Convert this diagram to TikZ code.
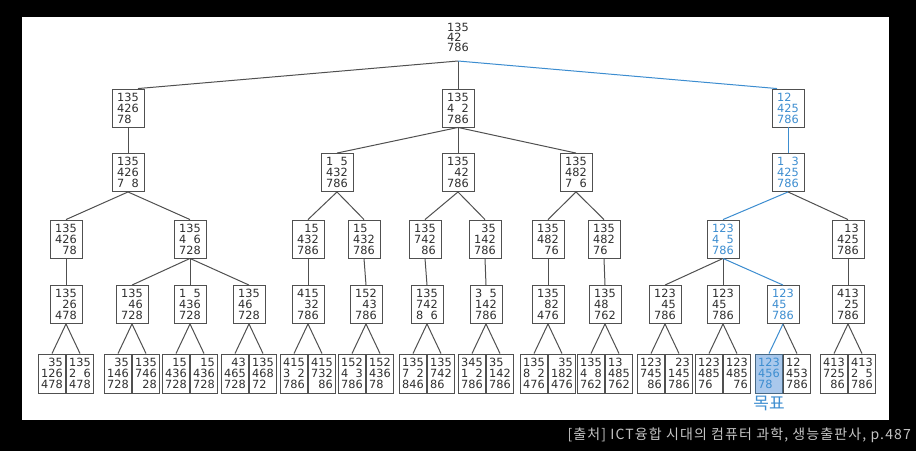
\documentclass[tikz,border=0pt]{standalone}
\usepackage{fontspec}
\setmainfont{DejaVu Sans}
\newfontfamily\krfont{Noto Sans CJK KR}
\newfontfamily\krwide[LetterSpace=8]{Noto Sans CJK KR}
\usetikzlibrary{positioning}
\definecolor{ink}{HTML}{2E2E2E}
\definecolor{edge}{HTML}{505050}
\definecolor{route}{HTML}{3C8DD0}
\definecolor{goalfill}{HTML}{A9C8EC}
\definecolor{capgray}{HTML}{C4C4C4}
\newcommand{\emp}{\phantom{0}}
\newcommand{\board}[3]{#1\\#2\\#3}
\tikzset{
  cell/.style={draw=edge,line width=0.9pt,fill=white,text=ink,align=left,
    font=\fontsize{11.3}{11}\selectfont,minimum width=32pt,minimum height=38pt,
    inner xsep=3pt,inner ysep=2pt},
  leaf/.style={cell,minimum width=27pt,minimum height=39pt,inner xsep=1pt},
  hot/.style={text=route},
  goal/.style={leaf,hot,fill=goalfill,draw=edge!60!route},
  link/.style={draw=edge,line width=1pt},
  hotlink/.style={draw=route,line width=1pt}
}

\begin{document}
\begin{tikzpicture}[x=1pt,y=-1pt]
  \useasboundingbox (0,0) rectangle (916,451);
  \fill[black] (0,0) rectangle (916,451);
  \fill[white] (22,17) rectangle (889,420);

  % start board
  \node[text=ink,align=left,font=\fontsize{11.3}{10}\selectfont,inner sep=0pt] (T) at (458,37) {\board{135}{42\emp}{786}};
  \coordinate (fork) at (458,61);

  % first moves
  \node[cell] (A) at (128,108) {\board{135}{426}{78\emp}};
  \node[cell] (B) at (458,108) {\board{135}{4\emp2}{786}};
  \node[cell,hot] (C) at (788,108) {\board{12\emp}{425}{786}};

  % second moves
  \node[cell] (A1) at (128,172.5) {\board{135}{426}{7\emp8}};
  \node[cell] (B1) at (337,172.5) {\board{1\emp5}{432}{786}};
  \node[cell] (B2) at (458,172.5) {\board{135}{\emp42}{786}};
  \node[cell] (B3) at (576,172.5) {\board{135}{482}{7\emp6}};
  \node[cell,hot] (C1) at (788,172.5) {\board{1\emp3}{425}{786}};

  % third moves
  \node[cell] (A11) at (66,239) {\board{135}{426}{\emp78}};
  \node[cell] (A12) at (190,239) {\board{135}{4\emp6}{728}};
  \node[cell] (B11) at (308,239) {\board{\emp15}{432}{786}};
  \node[cell] (B12) at (364,239) {\board{15\emp}{432}{786}};
  \node[cell] (B21) at (425,239) {\board{135}{742}{\emp86}};
  \node[cell] (B22) at (485,239) {\board{\emp35}{142}{786}};
  \node[cell] (B31) at (548,239) {\board{135}{482}{\emp76}};
  \node[cell] (B32) at (604,239) {\board{135}{482}{76\emp}};
  \node[cell,hot] (C11) at (723,239) {\board{123}{4\emp5}{786}};
  \node[cell] (C12) at (848,239) {\board{\emp13}{425}{786}};

  % fourth moves
  \node[cell] (A111) at (66,304.5) {\board{135}{\emp26}{478}};
  \node[cell] (A121) at (132,304.5) {\board{135}{\emp46}{728}};
  \node[cell] (A122) at (190,304.5) {\board{1\emp5}{436}{728}};
  \node[cell] (A123) at (249,304.5) {\board{135}{46\emp}{728}};
  \node[cell] (B111) at (308,304.5) {\board{415}{\emp32}{786}};
  \node[cell] (B121) at (366,304.5) {\board{152}{\emp43}{786}};
  \node[cell] (B211) at (427,304.5) {\board{135}{742}{8\emp6}};
  \node[cell] (B221) at (486,304.5) {\board{3\emp5}{142}{786}};
  \node[cell] (B311) at (548,304.5) {\board{135}{\emp82}{476}};
  \node[cell] (B321) at (605,304.5) {\board{135}{48\emp}{762}};
  \node[cell] (C111) at (665,304.5) {\board{123}{\emp45}{786}};
  \node[cell] (C112) at (723,304.5) {\board{123}{45\emp}{786}};
  \node[cell,hot] (C113) at (783,304.5) {\board{123}{45\emp}{786}};
  \node[cell] (C121) at (848,304.5) {\board{413}{\emp25}{786}};

  % fifth moves
  \node[leaf] (A111-l) at (52,373.5) {\board{\emp35}{126}{478}};
  \node[leaf] (A111-r) at (80,373.5) {\board{135}{2\emp6}{478}};
  \node[leaf] (A121-l) at (118,373.5) {\board{\emp35}{146}{728}};
  \node[leaf] (A121-r) at (146,373.5) {\board{135}{746}{\emp28}};
  \node[leaf] (A122-l) at (176,373.5) {\board{\emp15}{436}{728}};
  \node[leaf] (A122-r) at (204,373.5) {\board{\emp15}{436}{728}};
  \node[leaf] (A123-l) at (235,373.5) {\board{\emp43}{465}{728}};
  \node[leaf] (A123-r) at (263,373.5) {\board{135}{468}{72\emp}};
  \node[leaf] (B111-l) at (294,373.5) {\board{415}{3\emp2}{786}};
  \node[leaf] (B111-r) at (322,373.5) {\board{415}{732}{\emp86}};
  \node[leaf] (B121-l) at (352,373.5) {\board{152}{4\emp3}{786}};
  \node[leaf] (B121-r) at (380,373.5) {\board{152}{436}{78\emp}};
  \node[leaf] (B211-l) at (413,373.5) {\board{135}{7\emp2}{846}};
  \node[leaf] (B211-r) at (441,373.5) {\board{135}{742}{86\emp}};
  \node[leaf] (B221-l) at (472,373.5) {\board{345}{1\emp2}{786}};
  \node[leaf] (B221-r) at (500,373.5) {\board{35\emp}{142}{786}};
  \node[leaf] (B311-l) at (534,373.5) {\board{135}{8\emp2}{476}};
  \node[leaf] (B311-r) at (562,373.5) {\board{\emp35}{182}{476}};
  \node[leaf] (B321-l) at (591,373.5) {\board{135}{4\emp8}{762}};
  \node[leaf] (B321-r) at (619,373.5) {\board{13\emp}{485}{762}};
  \node[leaf] (C111-l) at (651,373.5) {\board{123}{745}{\emp86}};
  \node[leaf] (C111-r) at (679,373.5) {\board{\emp23}{145}{786}};
  \node[leaf] (C112-l) at (709,373.5) {\board{123}{485}{76\emp}};
  \node[leaf] (C112-r) at (737,373.5) {\board{123}{485}{\emp76}};
  \node[goal] (C113-l) at (769,373.5) {\board{123}{456}{78\emp}};
  \node[leaf] (C113-r) at (797,373.5) {\board{12\emp}{453}{786}};
  \node[leaf] (C121-l) at (834,373.5) {\board{413}{725}{\emp86}};
  \node[leaf] (C121-r) at (862,373.5) {\board{413}{2\emp5}{786}};

  \node[text=route,font=\krfont\fontsize{17}{17}\selectfont,inner sep=0pt] (tag) at (769,403) {목표};

  % edges
  \draw[link] (fork) -- ([xshift=10pt]A.north);
  \draw[link] (fork) -- (B.north);
  \draw[hotlink] (fork) -- ([xshift=-11pt]C.north);
  \foreach \p/\c in {A/A1,B/B1,B/B2,B/B3,A1/A11,A1/A12,B1/B11,B1/B12,B2/B21,B2/B22,
      B3/B31,B3/B32,C1/C12,A11/A111,A12/A121,A12/A122,A12/A123,B11/B111,B12/B121,
      B21/B211,B22/B221,B31/B311,B32/B321,C11/C111,C11/C112,C12/C121}
    \draw[link] (\p.south) -- (\c.north);
  \foreach \p in {A111,A121,A122,A123,B111,B121,B211,B221,B311,B321,C111,C112,C121} {
    \draw[link] (\p.south) -- (\p-l.north);
    \draw[link] (\p.south) -- (\p-r.north);
  }
  \draw[link] (C113.south) -- (C113-r.north);
  \foreach \p/\c in {C/C1,C1/C11,C11/C113,C113/C113-l}
    \draw[hotlink] (\p.south) -- (\c.north);

  % source line
  \node[anchor=east,text=capgray,font=\krwide\fontsize{14}{14}\selectfont,inner sep=0pt] (src) at (911,435) {[출처] ICT융합 시대의 컴퓨터 과학, 생능출판사, p.487};
\end{tikzpicture}
\end{document}
